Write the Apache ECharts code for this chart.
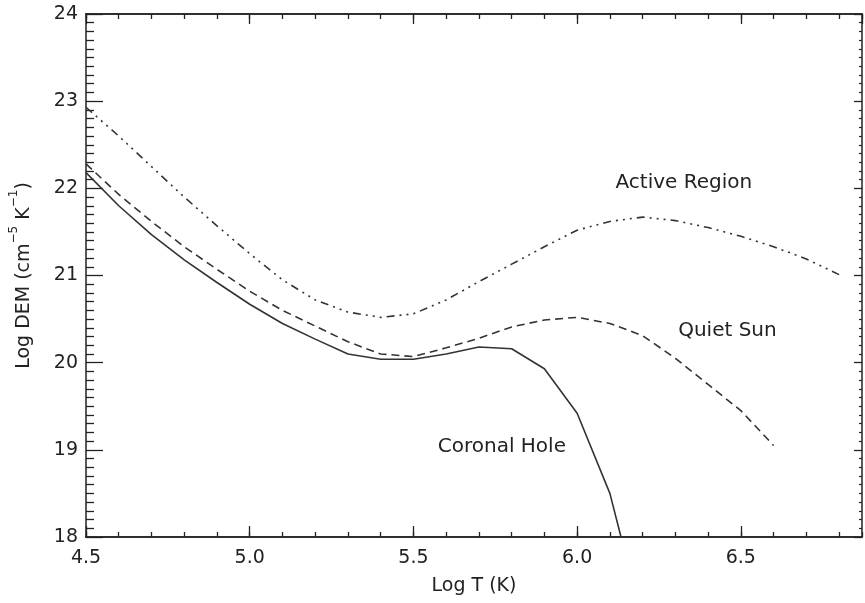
<!DOCTYPE html>
<html>
<head>
<meta charset="utf-8">
<script src="https://cdn.jsdelivr.net/npm/echarts@6/dist/echarts.min.js"></script>
<style>
  html, body { margin: 0; padding: 0; background: #fff; }
  #chart { width: 865px; height: 603px; }
</style>
</head>
<body>
<div id="chart"></div>
<script>
  // Log T (K) grids for each curve
  var arT = [4.5, 4.6, 4.7, 4.8, 4.9, 5.0, 5.1, 5.2, 5.3, 5.4, 5.5, 5.6, 5.7, 5.8, 5.9, 6.0, 6.1, 6.2, 6.3, 6.4, 6.5, 6.6, 6.7, 6.8]
  var arDem = [22.93, 22.6, 22.25, 21.9, 21.57, 21.25, 20.95, 20.72, 20.58, 20.52, 20.56, 20.72, 20.93, 21.13, 21.33, 21.52, 21.62, 21.67, 21.63, 21.55, 21.45, 21.33, 21.19, 21.01]

  var qsT = [4.5, 4.6, 4.7, 4.8, 4.9, 5.0, 5.1, 5.2, 5.3, 5.4, 5.5, 5.6, 5.7, 5.8, 5.9, 6.0, 6.1, 6.2, 6.3, 6.4, 6.5, 6.6]
  var qsDem = [22.28, 21.93, 21.62, 21.33, 21.07, 20.82, 20.6, 20.42, 20.24, 20.1, 20.07, 20.17, 20.28, 20.41, 20.49, 20.52, 20.45, 20.31, 20.05, 19.75, 19.45, 19.05]

  var chT = [4.5, 4.6, 4.7, 4.8, 4.9, 5.0, 5.1, 5.2, 5.3, 5.4, 5.5, 5.6, 5.7, 5.8, 5.9, 6.0, 6.1, 6.2]
  var chDem = [22.18, 21.8, 21.47, 21.18, 20.92, 20.67, 20.45, 20.27, 20.1, 20.04, 20.04, 20.1, 20.18, 20.16, 19.93, 19.42, 18.5, 17.03]

  var noteText = ['Active Region', 'Quiet Sun', 'Coronal Hole']
  var noteT = [6.326, 6.459, 5.77]
  var noteDem = [22.06, 20.37, 19.03]

  var xMin = 4.5, xMax = 6.87, yMin = 18, yMax = 24
  var ink = '#222'
  var font = 'DejaVu Sans'

  function pairs(xs, ys) {
    return xs.map(function(x, i) { return [x, ys[i]] })
  }

  function xAx(pos, interval, len, extra) {
    return Object.assign({
      type: 'value', position: pos, min: xMin, max: xMax, interval: interval,
      axisLine: { show: true, lineStyle: { color: ink, width: 1.5 } },
      axisTick: { show: true, inside: true, length: len, lineStyle: { color: ink, width: 1.3 } },
      axisLabel: { show: false },
      splitLine: { show: false }
    }, extra || {})
  }

  var chart = echarts.init(document.getElementById('chart'))

  var option = {
    animation: false,
    backgroundColor: '#fff',
    grid: { left: 86, right: 3, top: 14, bottom: 66, containLabel: false, outerBoundsMode: 'none' },
    xAxis: [
      xAx('bottom', 0.5, 11, {
        axisLabel: {
          show: true, margin: 12, color: ink, fontFamily: font, fontSize: 19,
          showMaxLabel: false,
          formatter: function(v) { return v.toFixed(1) }
        },
        name: 'Log T (K)', nameLocation: 'middle', nameGap: 40,
        nameTextStyle: { color: ink, fontFamily: font, fontSize: 19 }
      }),
      xAx('bottom', 0.1, 5),
      xAx('top', 0.5, 10),
      xAx('top', 0.1, 5)
    ],
    yAxis: [
      {
        type: 'value', position: 'left', min: yMin, max: yMax, interval: 1,
        axisLine: { show: true, lineStyle: { color: ink, width: 1.5 } },
        axisTick: { show: true, inside: true, length: 17, lineStyle: { color: ink, width: 1.3 } },
        minorTick: { show: true, splitNumber: 10, length: 8, lineStyle: { color: ink, width: 1.3 } },
        axisLabel: { margin: 8, color: ink, fontFamily: font, fontSize: 19 },
        splitLine: { show: false },
        name: '{a|Log DEM (cm}{s|−5}{a| K}{s|−1}{a|)}',
        nameLocation: 'middle', nameGap: 52, nameRotate: 90,
        nameTextStyle: {
          rich: {
            a: { color: ink, fontFamily: font, fontSize: 19, lineHeight: 26, verticalAlign: 'bottom' },
            s: { color: ink, fontFamily: font, fontSize: 12, lineHeight: 26, verticalAlign: 'top' }
          }
        }
      },
      {
        type: 'value', position: 'right', min: yMin, max: yMax, interval: 1,
        axisLine: { show: true, lineStyle: { color: ink, width: 1.5 } },
        axisTick: { show: true, inside: true, length: 8, lineStyle: { color: ink, width: 1.3 } },
        minorTick: { show: true, splitNumber: 10, length: 3, lineStyle: { color: ink, width: 1.2 } },
        axisLabel: { show: false },
        splitLine: { show: false }
      }
    ],
    series: [
      {
        name: 'Active Region', type: 'line', data: pairs(arT, arDem),
        showSymbol: false, symbol: 'none', clip: true,
        lineStyle: { color: '#333', width: 1.6, type: [8, 5, 2, 5, 2, 5, 2, 5] }
      },
      {
        name: 'Quiet Sun', type: 'line', data: pairs(qsT, qsDem),
        showSymbol: false, symbol: 'none', clip: true,
        lineStyle: { color: '#333', width: 1.6, type: [8, 5] }
      },
      {
        name: 'Coronal Hole', type: 'line', data: pairs(chT, chDem),
        showSymbol: false, symbol: 'none', clip: true,
        lineStyle: { color: '#333', width: 1.6, type: 'solid' }
      },
      {
        type: 'scatter', silent: true, symbolSize: 1,
        itemStyle: { color: '#fff', opacity: 0 },
        data: noteText.map(function(t, i) { return { value: [noteT[i], noteDem[i]], name: t } }),
        label: {
          show: true, position: 'inside', formatter: '{b}', opacity: 1,
          color: ink, fontFamily: font, fontSize: 20, textBorderWidth: 0
        }
      }
    ]
  }

  chart.setOption(option)
</script>
</body>
</html>
